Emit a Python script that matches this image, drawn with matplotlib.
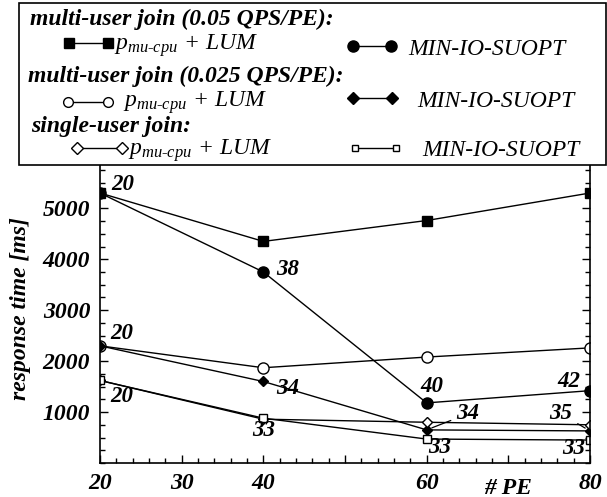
import matplotlib
matplotlib.use('Agg')
import matplotlib.pyplot as plt
from matplotlib.lines import Line2D
from matplotlib.patches import Rectangle
from matplotlib.ticker import MultipleLocator, FixedLocator

plt.rcParams['font.family'] = ['Liberation Serif', 'DejaVu Serif']
plt.rcParams['mathtext.fontset'] = 'custom'
plt.rcParams['mathtext.it'] = 'Liberation Serif:italic'
plt.rcParams['mathtext.rm'] = 'Liberation Serif:italic'

# Antwortzeiten [ms] je Anzahl PE
pe = [20, 40, 60, 80]
mu05_lum = [5300, 4350, 4760, 5300]
mu05_minio = [5300, 3750, 1180, 1420]
mu025_lum = [2300, 1870, 2080, 2260]
mu025_minio = [2300, 1600, 650, 630]
su_lum = [1620, 860, 800, 750]
su_minio = [1620, 880, 470, 450]

# gewählter Parallelitätsgrad (MIN-IO-SUOPT)
mu05_dop = ['20', '38', '40', '42']
mu025_dop = ['20', '34', '34', '35']
su_dop = ['20', '33', '33', '33']

bi = dict(family='Liberation Serif', weight='bold', style='italic')
it = dict(family='Liberation Serif', style='italic')

fig = plt.figure(figsize=(6.07, 4.97), dpi=100)
ax = fig.add_axes([100/607, 1-463/497, 490/607, 298/497])

kw = dict(color='black', lw=1.0)
ax.plot(pe, mu05_lum, marker='s', ms=6.5, mfc='black', mec='black', **kw)
ax.plot(pe, mu05_minio, marker='o', ms=8, mfc='black', mec='black', **kw)
ax.plot(pe, mu025_lum, marker='o', ms=8, mfc='white', mec='black', **kw)
ax.plot(pe, mu025_minio, marker='D', ms=5.5, mfc='black', mec='black', **kw)
ax.plot(pe, su_lum, marker='D', ms=5.5, mfc='white', mec='black', **kw)
ax.plot(pe, su_minio, marker='s', ms=6, mfc='white', mec='black', **kw)

def label(xs, ys, texts, offs, leader=()):
    for i, (x, y, t, o) in enumerate(zip(xs, ys, texts, offs)):
        ap = None
        if i in leader:
            ap = dict(arrowstyle='-', color='black', lw=0.9, shrinkA=2, shrinkB=4)
        ax.annotate(t, (x, y), xytext=o, textcoords='offset pixels',
                    ha='center', va='center', fontsize=16.5, arrowprops=ap, **bi)

label(pe, mu05_minio, mu05_dop, [(23, 9), (24, 2), (5, 16), (-21, 9)])
label(pe, mu025_minio, mu025_dop, [(22, 12), (24, -7), (41, 16), (-29, 17)], leader=(2, 3))
label(pe, su_minio, su_dop, [(22, -16), (0, -12), (13, -8), (-16, -8)])

ax.set_xlim(20, 80)
ax.set_ylim(0, 5850)
ax.xaxis.set_major_locator(FixedLocator([20, 30, 40, 50, 60, 70, 80]))
ax.set_xticklabels(['20', '30', '40', '', '60', '', '80'])
ax.xaxis.set_minor_locator(MultipleLocator(2))
ax.yaxis.set_major_locator(FixedLocator([1000, 2000, 3000, 4000, 5000]))
ax.yaxis.set_minor_locator(MultipleLocator(250))
ax.tick_params(which='both', direction='in', left=True, right=True, top=False, bottom=True, width=1)
ax.tick_params(which='major', length=6, labelsize=17, pad=7)
ax.tick_params(which='minor', length=3.5)
for lab in ax.get_xticklabels() + ax.get_yticklabels():
    lab.set_fontweight('bold')
    lab.set_fontstyle('italic')
ax.spines['top'].set_visible(False)
for s in ('left', 'right', 'bottom'):
    ax.spines[s].set_linewidth(1.2)

fig.text(21/607, 1-309/497, 'response time [ms]', rotation=90, ha='center', va='center', fontsize=17, **bi)
fig.text(508/607, 1-488/497, '# PE', ha='center', va='center', fontsize=17, **bi)

# Legende als eigener Kasten oberhalb des Diagramms
lg = fig.add_axes([0, 0, 1, 1], zorder=5)
lg.set_xlim(0, 607)
lg.set_ylim(497, 0)
lg.axis('off')
lg.add_patch(Rectangle((19, 3), 587, 162, facecolor='white', edgecolor='black', lw=1.2))

lg.text(30, 25, 'multi-user join (0.05 QPS/PE):', fontsize=17, va='baseline', **bi)
lg.text(28, 82, 'multi-user join (0.025 QPS/PE):', fontsize=17, va='baseline', **bi)
lg.text(31, 132, 'single-user join:', fontsize=17, va='baseline', **bi)

handles = [
    ((69, 108), 43, 's', 6.5, 'black', (114, 50)),
    ((353, 391), 46, 'o', 8, 'black', (408, 55)),
    ((68, 108), 102, 'o', 7, 'white', (123, 107)),
    ((353, 392), 98, 'D', 6, 'black', (417, 107)),
    ((77, 122), 148, 'D', 6, 'white', (128, 155)),
    ((355, 396), 148, 's', 5, 'white', (422, 156)),
]
names = [r'$p_{mu\text{-}cpu}$ + LUM', 'MIN-IO-SUOPT'] * 3
for (xs, y, m, ms, fc, tpos), name in zip(handles, names):
    lg.add_line(Line2D(xs, [y, y], color='black', lw=1.0, marker=m, ms=ms, mfc=fc, mec='black'))
    lg.text(tpos[0], tpos[1], name, fontsize=17, va='baseline', **it)

fig.savefig('out.png', dpi=100)
